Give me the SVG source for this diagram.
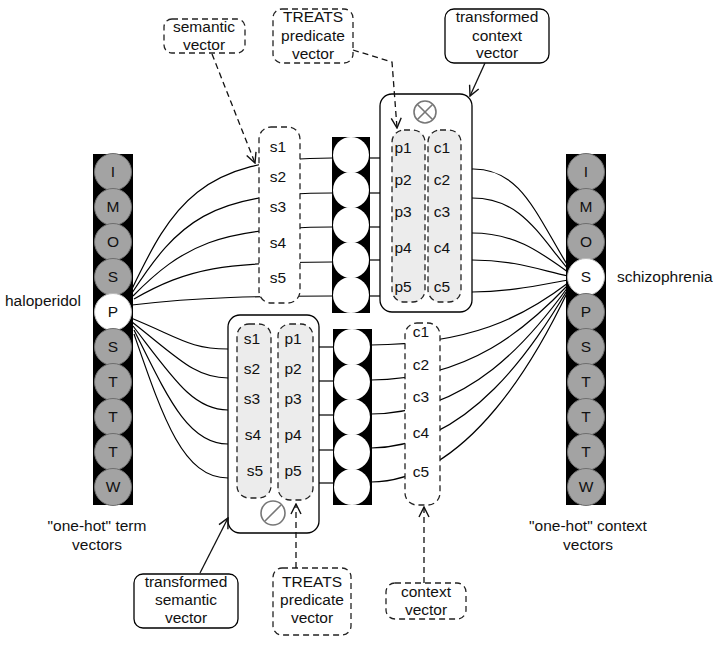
<svg xmlns="http://www.w3.org/2000/svg" width="723" height="645" viewBox="0 0 723 645">
<style>
text{font-family:"Liberation Sans",Arial,sans-serif;font-size:15.5px;fill:#111}
.c{text-anchor:middle}
.bar{fill:#000}
.g{fill:#a3a3a3;stroke:#6e6e6e;stroke-width:1}
.w{fill:#fff;stroke:#bbb;stroke-width:1}
.box{fill:#fff;stroke:#000;stroke-width:1.3}
.dcol{fill:#ececec;stroke:#222;stroke-width:1.3;stroke-dasharray:6 4}
.dwhite{fill:#fff;stroke:#222;stroke-width:1.3;stroke-dasharray:6 4}
.ln{fill:none;stroke:#000;stroke-width:1.2}
.da{fill:none;stroke:#111;stroke-width:1.3;stroke-dasharray:6 4}
.sa{fill:none;stroke:#111;stroke-width:1.3}
.op{fill:none;stroke:#777;stroke-width:1.6}
</style>
<defs>
<marker id="ah" viewBox="0 0 12 12" refX="11" refY="6" markerWidth="12" markerHeight="12" markerUnits="userSpaceOnUse" orient="auto">
<path d="M1,1 L11,6 L1,11" fill="none" stroke="#111" stroke-width="1.4"/>
</marker>
</defs>

<g id="connectors">
<path class="ln" d="M131,291 C172,205 200,158 332,158"/>
<path class="ln" d="M132,293 C178,222 210,193 332,193"/>
<path class="ln" d="M133,296 C182,246 220,227 332,227"/>
<path class="ln" d="M134,299 C188,268 225,262 332,262"/>
<path class="ln" d="M132,305 C200,297 260,296 332,296"/>
<path class="ln" d="M131,318 C180,338 190,349 228,349"/>
<path class="ln" d="M132,322 C178,358 195,378 228,378"/>
<path class="ln" d="M133,326 C173,378 193,410 228,410"/>
<path class="ln" d="M134,330 C168,398 188,444 228,444"/>
<path class="ln" d="M134,334 C163,418 183,478 228,478"/>
<path class="ln" d="M319,347 L334,347"/>
<path class="ln" d="M319,381 L334,381"/>
<path class="ln" d="M319,415 L334,415"/>
<path class="ln" d="M319,450 L334,450"/>
<path class="ln" d="M319,483 L334,483"/>
<path class="ln" d="M369,158 L380,158"/>
<path class="ln" d="M369,193 L380,193"/>
<path class="ln" d="M369,227 L380,227"/>
<path class="ln" d="M369,260 L380,260"/>
<path class="ln" d="M369,296 L380,296"/>
<path class="ln" d="M472,169 C520,168 535,212 568,266"/>
<path class="ln" d="M472,198 C520,198 537,232 568,269"/>
<path class="ln" d="M472,233 C515,233 540,252 568,272"/>
<path class="ln" d="M472,260 C515,260 540,270 568,276"/>
<path class="ln" d="M472,292 C510,292 540,285 568,280"/>
<path class="ln" d="M371,345 C470,344 522,318 568,283"/>
<path class="ln" d="M371,380 C470,379 527,328 568,285"/>
<path class="ln" d="M371,414 C470,413 531,338 568,287"/>
<path class="ln" d="M371,448 C470,447 535,344 568,289"/>
<path class="ln" d="M371,482 C470,481 540,350 568,291"/>
</g>

<g id="term-vectors">
<rect class="bar" x="93" y="154" width="40" height="351"/>
<circle class="g" cx="113" cy="172" r="18.5"/><text class="c" x="113" y="177">I</text>
<circle class="g" cx="113" cy="207" r="18.5"/><text class="c" x="113" y="212">M</text>
<circle class="g" cx="113" cy="242" r="18.5"/><text class="c" x="113" y="247">O</text>
<circle class="g" cx="113" cy="277" r="18.5"/><text class="c" x="113" y="282">S</text>
<circle class="w" cx="113" cy="312" r="18.5"/><text class="c" x="113" y="317">P</text>
<circle class="g" cx="113" cy="347" r="18.5"/><text class="c" x="113" y="352">S</text>
<circle class="g" cx="113" cy="382" r="18.5"/><text class="c" x="113" y="387">T</text>
<circle class="g" cx="113" cy="417" r="18.5"/><text class="c" x="113" y="422">T</text>
<circle class="g" cx="113" cy="452" r="18.5"/><text class="c" x="113" y="457">T</text>
<circle class="g" cx="113" cy="487" r="18.5"/><text class="c" x="113" y="492">W</text>
</g>
<g id="term-labels">
<text x="5" y="306">haloperidol</text>
<text class="c" x="97" y="531">"one-hot" term</text>
<text class="c" x="97" y="550">vectors</text>
</g>

<g id="context-vectors">
<rect class="bar" x="566" y="154" width="40" height="351"/>
<circle class="g" cx="586" cy="172" r="18.5"/><text class="c" x="586" y="177">I</text>
<circle class="g" cx="586" cy="207" r="18.5"/><text class="c" x="586" y="212">M</text>
<circle class="g" cx="586" cy="242" r="18.5"/><text class="c" x="586" y="247">O</text>
<circle class="w" cx="586" cy="277" r="18.5"/><text class="c" x="586" y="282">S</text>
<circle class="g" cx="586" cy="312" r="18.5"/><text class="c" x="586" y="317">P</text>
<circle class="g" cx="586" cy="347" r="18.5"/><text class="c" x="586" y="352">S</text>
<circle class="g" cx="586" cy="382" r="18.5"/><text class="c" x="586" y="387">T</text>
<circle class="g" cx="586" cy="417" r="18.5"/><text class="c" x="586" y="422">T</text>
<circle class="g" cx="586" cy="452" r="18.5"/><text class="c" x="586" y="457">T</text>
<circle class="g" cx="586" cy="487" r="18.5"/><text class="c" x="586" y="492">W</text>
</g>
<g id="context-labels">
<text x="617" y="282">schizophrenia</text>
<text class="c" x="588" y="531">"one-hot" context</text>
<text class="c" x="588" y="550">vectors</text>
</g>

<g id="semantic-vector">
<rect class="dwhite" x="259" y="127" width="41" height="176" rx="12"/>
<text class="c" x="278" y="152">s1</text>
<text class="c" x="278" y="182">s2</text>
<text class="c" x="278" y="212">s3</text>
<text class="c" x="278" y="248">s4</text>
<text class="c" x="278" y="283">s5</text>
</g>

<g id="upper-hidden">
<rect class="bar" x="332" y="137" width="38" height="176"/>
<circle fill="#fff" cx="351" cy="155" r="18"/>
<circle fill="#fff" cx="351" cy="190" r="18"/>
<circle fill="#fff" cx="351" cy="225" r="18"/>
<circle fill="#fff" cx="351" cy="260" r="18"/>
<circle fill="#fff" cx="351" cy="295" r="18"/>
</g>

<g id="lower-hidden">
<rect class="bar" x="333" y="329" width="39" height="176"/>
<circle fill="#fff" cx="352" cy="347" r="18"/>
<circle fill="#fff" cx="352" cy="382" r="18"/>
<circle fill="#fff" cx="352" cy="417" r="18"/>
<circle fill="#fff" cx="352" cy="452" r="18"/>
<circle fill="#fff" cx="352" cy="487" r="18"/>
</g>

<g id="transformed-context">
<rect class="box" x="380" y="94" width="92" height="218" rx="12"/>
<circle class="op" cx="425" cy="112" r="11"/>
<path class="op" d="M417.2,104.2 L432.8,119.8 M432.8,104.2 L417.2,119.8"/>
<rect class="dcol" x="392" y="130" width="33" height="172" rx="12"/>
<rect class="dcol" x="428" y="130" width="33" height="172" rx="12"/>
<text class="c" x="403" y="153">p1</text>
<text class="c" x="403" y="185">p2</text>
<text class="c" x="403" y="217">p3</text>
<text class="c" x="403" y="253">p4</text>
<text class="c" x="403" y="292">p5</text>
<text class="c" x="442" y="153">c1</text>
<text class="c" x="442" y="185">c2</text>
<text class="c" x="442" y="217">c3</text>
<text class="c" x="442" y="253">c4</text>
<text class="c" x="442" y="292">c5</text>
</g>

<g id="transformed-semantic">
<rect class="box" x="228" y="315" width="91" height="218" rx="12"/>
<rect class="dcol" x="237" y="324" width="34" height="174" rx="12"/>
<rect class="dcol" x="278" y="324" width="35" height="176" rx="12"/>
<text class="c" x="252" y="344">s1</text>
<text class="c" x="252" y="374">s2</text>
<text class="c" x="252" y="404">s3</text>
<text class="c" x="253" y="440">s4</text>
<text class="c" x="255" y="476">s5</text>
<text class="c" x="293" y="344">p1</text>
<text class="c" x="293" y="374">p2</text>
<text class="c" x="293" y="404">p3</text>
<text class="c" x="293" y="440">p4</text>
<text class="c" x="293" y="476">p5</text>
<circle class="op" cx="273" cy="513" r="12"/>
<path class="op" d="M265,521 L281,505"/>
</g>

<g id="lower-context">
<rect class="dwhite" x="405" y="323" width="35" height="182" rx="12"/>
<text class="c" x="421" y="337">c1</text>
<text class="c" x="421" y="370">c2</text>
<text class="c" x="421" y="402">c3</text>
<text class="c" x="421" y="438">c4</text>
<text class="c" x="421" y="477">c5</text>
</g>

<g id="callout-semantic">
<rect class="dwhite" x="164" y="19" width="81" height="34" rx="8"/>
<text class="c" x="204" y="32">semantic</text>
<text class="c" x="204" y="50">vector</text>
</g>
<g id="callout-treats-top">
<rect class="dwhite" x="273" y="9" width="80" height="54" rx="9"/>
<text class="c" x="313" y="22">TREATS</text>
<text class="c" x="313" y="41">predicate</text>
<text class="c" x="313" y="59">vector</text>
</g>
<g id="callout-transformed-context">
<rect class="box" x="445" y="9" width="104" height="54" rx="9"/>
<text class="c" x="497" y="22">transformed</text>
<text class="c" x="497" y="41">context</text>
<text class="c" x="497" y="58">vector</text>
</g>
<g id="callout-transformed-semantic">
<rect class="box" x="134" y="574" width="104" height="54" rx="9"/>
<text class="c" x="186" y="587">transformed</text>
<text class="c" x="186" y="605">semantic</text>
<text class="c" x="186" y="623">vector</text>
</g>
<g id="callout-treats-bottom">
<rect class="dwhite" x="273" y="568" width="78" height="67" rx="9"/>
<text class="c" x="312" y="587">TREATS</text>
<text class="c" x="312" y="605">predicate</text>
<text class="c" x="312" y="623">vector</text>
</g>
<g id="callout-context">
<rect class="dwhite" x="386" y="583" width="80" height="36" rx="9"/>
<text class="c" x="426" y="597">context</text>
<text class="c" x="426" y="615">vector</text>
</g>

<g id="callout-arrows">
<path class="da" d="M212,54 L255,163" marker-end="url(#ah)"/>
<path class="da" d="M353,50 L392,62 L397,128" marker-end="url(#ah)"/>
<path class="sa" d="M485,63 L470,96" marker-end="url(#ah)"/>
<path class="sa" d="M200,573 L228,518" marker-end="url(#ah)"/>
<path class="da" d="M296,568 L296,504" marker-end="url(#ah)"/>
<path class="da" d="M424,583 L424,507" marker-end="url(#ah)"/>
</g>
</svg>
